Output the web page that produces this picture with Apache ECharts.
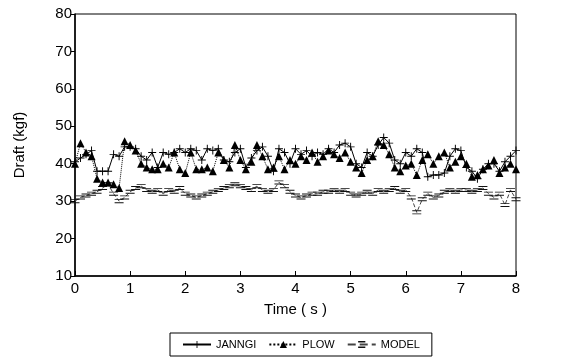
<!DOCTYPE html>
<html><head><meta charset="utf-8">
<script src="https://cdn.jsdelivr.net/npm/echarts@6/dist/echarts.min.js"></script>
<style>html,body{margin:0;padding:0;background:#fff}#c{width:578px;height:364px}</style>
</head><body><div id="c"></div>
<script>
const times = [];
for (let i = 0; i <= 80; i++) times.push(+(i / 10).toFixed(1));
const janngi = [40.5,41.5,42.5,43.5,38,38,38,42.5,42,44.5,44.5,44,42,41,43,39,43,42.5,43,44,43,44,43.5,41,44,43.5,44,41,40.5,43,44,39,41.5,43.5,44.5,42,38,44,43,40,44,42.5,43.5,42,43,42.5,44,43,45,45.5,44.5,40,39,43,42,45,47,45.5,41,40,43,42,44,43,36.5,37,37,37.5,42,44,43.5,39,38,36,38.5,40,40,38,40.5,42,43.5];
const plow = [40,45.5,43,42,36,35,35,34.5,33.5,46,45,43.5,40,39,38.5,38.5,40,39,43,38.5,37.5,43,38.5,38.5,39,38,43,41,39,45,41,38.5,40.5,45,42,38.5,39,42,38.5,41,40,42,41,43,40.5,42,43.5,42.5,41.5,43,40.5,39,37.5,41,42,46,45,42.5,39,38,39.5,40,37,41,42.5,40,42,43,39,40.5,42,40,36.5,37,38.5,39.5,41,37.5,39,40,38.5];
const model = [30,31,31.5,32,32.5,33.5,34.5,32,30,31,32.5,33.5,34,33,32.5,33,32,33,32.5,33.5,32,31.5,31,31.5,32,32.5,33,33.5,34,34.5,34,33.5,33,34,33,32.5,33,35,34,32.5,31.5,31,31.5,32,32,32.5,32.5,33,32.5,33,32,31.5,32,32.5,32,33,32.5,33,33.5,32.5,33,31,27,30.5,32,31,31.5,32.5,33,32.5,33,33,32.5,33,33.5,32,31,32,29,33,30.5];
const seriesNames = ['JANNGI','PLOW','MODEL'];
const yTicks = [10,20,30,40,50,60,70,80];
const xTicks = [0,1,2,3,4,5,6,7,8];

const pair = arr => arr.map((v, i) => [times[i], v]);
const plusSym = 'path://M0,4.4H10V5.6H0Z M4.4,0H5.6V10H4.4Z';
const barsSym = 'path://M0,0H10V1.4H0Z M0,4.6H10V6H0Z';
const font = 'Liberation Sans';

const chart = echarts.init(document.getElementById('c'));
chart.setOption({
  animation: false,
  backgroundColor: '#fff',
  textStyle: {fontFamily: font, color: '#000'},
  grid: {left: 75, right: 62, top: 14, bottom: 88, show: true, borderColor: '#000', borderWidth: 1},
  xAxis: {
    type: 'value', min: xTicks[0], max: xTicks[xTicks.length-1], interval: 1,
    name: 'Time ( s )', nameLocation: 'middle', nameGap: 26,
    nameTextStyle: {fontSize: 15, color: '#000', fontFamily: font},
    axisLine: {onZero: false, lineStyle: {color: '#000', width: 1.5}},
    axisTick: {inside: true, length: 5, lineStyle: {color: '#000'}},
    axisLabel: {fontSize: 15, color: '#000', margin: 5, fontFamily: font},
    splitLine: {show: false}
  },
  yAxis: {
    type: 'value', min: yTicks[0], max: yTicks[yTicks.length-1], interval: 10,
    name: 'Draft (kgf)', nameLocation: 'middle', nameGap: 48, nameRotate: 90,
    nameTextStyle: {fontSize: 15, color: '#000', fontFamily: font},
    axisLine: {onZero: false, lineStyle: {color: '#000', width: 1.5}},
    axisTick: {length: 4, lineStyle: {color: '#000'}},
    axisLabel: {fontSize: 15, color: '#000', margin: 3, fontFamily: font},
    splitLine: {show: false}
  },
  legend: {
    bottom: 8, left: 170, orient: 'horizontal',
    borderColor: '#000', borderWidth: 1, padding: [6, 12],
    itemGap: 12, itemWidth: 28, itemHeight: 9,
    textStyle: {fontSize: 11, color: '#000', fontFamily: font},
    data: seriesNames
  },
  series: [
    {name: seriesNames[0], type: 'line', data: pair(janngi), symbol: plusSym, symbolSize: 8,
     itemStyle: {color: '#000'}, lineStyle: {color: '#000', width: 1}, z: 3},
    {name: seriesNames[1], type: 'line', data: pair(plow), symbol: 'triangle', symbolSize: 8,
     itemStyle: {color: '#000'}, lineStyle: {color: '#000', width: 1, type: 'dotted'}, z: 4},
    {name: seriesNames[2], type: 'line', data: pair(model), symbol: barsSym, symbolSize: [9, 4],
     itemStyle: {color: '#111'}, lineStyle: {color: '#444', width: 1, type: 'dashed'}, z: 2}
  ]
});
</script></body></html>
